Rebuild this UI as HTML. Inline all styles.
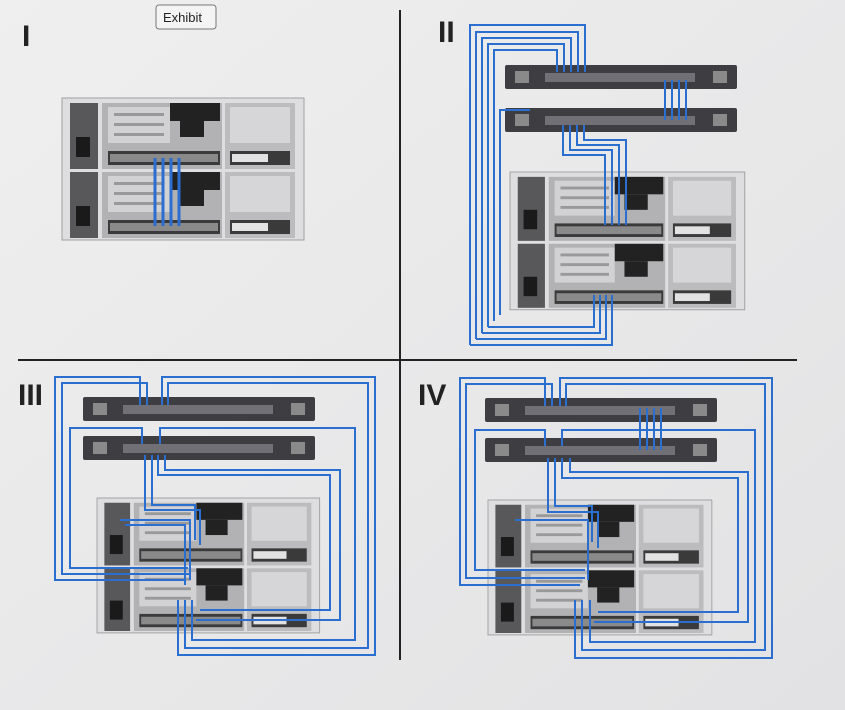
<!DOCTYPE html>
<html><head><style>
html,body{margin:0;padding:0;background:#ececec;}
svg{display:block;font-family:"Liberation Sans",sans-serif;}
</style></head><body>
<svg width="845" height="710" viewBox="0 0 845 710" xmlns="http://www.w3.org/2000/svg">
<defs>
<linearGradient id="bg" x1="0" y1="0" x2="1" y2="1">
<stop offset="0" stop-color="#efefef"/><stop offset="1" stop-color="#e2e2e4"/></linearGradient>
<g id="half">
<rect x="40" y="0" width="120" height="66" fill="#b2b2b4"/>
<rect x="46" y="4" width="62" height="36" fill="#d2d2d4"/>
<rect x="52" y="10" width="50" height="3" fill="#999"/><rect x="52" y="20" width="50" height="3" fill="#999"/><rect x="52" y="30" width="50" height="3" fill="#999"/>
<rect x="108" y="0" width="50" height="18" fill="#222"/>
<rect x="118" y="18" width="24" height="16" fill="#222"/>
<rect x="46" y="48" width="112" height="14" fill="#3a3a3a"/>
<rect x="48" y="51" width="108" height="8" fill="#8a8a8a"/>
<rect x="163" y="0" width="70" height="66" fill="#bcbcbe"/>
<rect x="168" y="4" width="60" height="36" fill="#d6d6d8"/>
<rect x="168" y="48" width="60" height="14" fill="#3a3a3a"/>
<rect x="170" y="51" width="36" height="8" fill="#e2e2e2"/>
<rect x="8" y="0" width="28" height="66" fill="#58585a"/>
<rect x="14" y="34" width="14" height="20" fill="#1a1a1a"/>
</g>
<g id="server">
<rect x="0" y="0" width="242" height="142" fill="#dedee0" stroke="#a0a0a0"/>
<use href="#half" x="0" y="5"/>
<use href="#half" x="0" y="74"/>
</g>
<g id="switch">
<rect x="0" y="0" width="232" height="24" rx="2" fill="#3e3e42"/>
<rect x="10" y="6" width="14" height="12" fill="#8a8a8a"/>
<rect x="208" y="6" width="14" height="12" fill="#8a8a8a"/>
<rect x="40" y="8" width="150" height="9" fill="#707076"/>
</g>
</defs>
<rect width="845" height="710" fill="url(#bg)"/>
<line x1="400" y1="10" x2="400" y2="660" stroke="#222" stroke-width="2"/>
<line x1="18" y1="360" x2="797" y2="360" stroke="#222" stroke-width="2"/>
<text x="22" y="46" font-size="30" font-weight="bold" fill="#222">I</text>
<text x="438" y="42" font-size="30" font-weight="bold" fill="#222">II</text>
<text x="18" y="405" font-size="30" font-weight="bold" fill="#222">III</text>
<text x="418" y="405" font-size="30" font-weight="bold" fill="#222">IV</text>
<rect x="156" y="5" width="60" height="24" rx="3" fill="#f4f4f4" stroke="#777"/>
<text x="163" y="22" font-size="13" fill="#222">Exhibit</text>

<use href="#server" x="62" y="98"/>
<g stroke="#2a6fd0" stroke-width="3" fill="none">
<line x1="155" y1="158" x2="155" y2="226"/><line x1="163" y1="158" x2="163" y2="226"/>
<line x1="171" y1="158" x2="171" y2="226"/><line x1="179" y1="158" x2="179" y2="226"/>
</g>

<use href="#switch" x="505" y="65"/>
<use href="#switch" x="505" y="108"/>
<use href="#server" x="510" y="172" transform="translate(510 172) scale(0.97 0.97) translate(-510 -172)"/>
<g stroke="#2a6fd0" stroke-width="2" fill="none">
<path d="M470 345 V25 H585 V72"/><path d="M476 339 V32 H578 V72"/><path d="M482 333 V38 H571 V72"/><path d="M488 327 V44 H564 V72"/><path d="M494 321 V50 H557 V72"/>
<path d="M470 345 H612 V295"/><path d="M476 339 H606 V295"/><path d="M482 333 H600 V295"/><path d="M488 327 H594 V295"/>
<path d="M500 315 V110 H530"/>
<path d="M563 125 V155 H605 V225"/><path d="M570 125 V150 H612 V225"/><path d="M577 125 V145 H619 V225"/><path d="M584 125 V140 H626 V225"/>
<path d="M665 80 V120"/><path d="M672 80 V120"/><path d="M679 80 V120"/><path d="M686 80 V120"/>
</g>

<use href="#switch" x="83" y="397"/>
<use href="#switch" x="83" y="436"/>
<use href="#server" x="97" y="498" transform="translate(97 498) scale(0.92 0.95) translate(-97 -498)"/>
<g stroke="#2a6fd0" stroke-width="2" fill="none">
<path d="M140 405 V377 H55 V580 H185"/><path d="M147 405 V383 H62 V574 H190"/>
<path d="M162 405 V377 H375 V655 H178 V600"/><path d="M168 405 V383 H368 V648 H185 V600"/>
<path d="M142 444 V428 H70 V568 H188"/><path d="M160 444 V428 H355 V640 H192 V600"/>
<path d="M145 455 V510 H200 V545"/><path d="M152 455 V505 H195 V540"/>
<path d="M158 455 V475 H330 V610 H200"/><path d="M165 455 V470 H340 V620 H196"/>
<path d="M120 520 H190 V580"/><path d="M125 525 H185 V585"/>
</g>

<use href="#switch" x="485" y="398"/>
<use href="#switch" x="485" y="438"/>
<use href="#server" x="488" y="500" transform="translate(488 500) scale(0.925 0.95) translate(-488 -500)"/>
<g stroke="#2a6fd0" stroke-width="2" fill="none">
<path d="M545 406 V378 H460 V585 H580"/><path d="M552 406 V384 H466 V578 H585"/>
<path d="M560 406 V378 H772 V658 H575 V600"/><path d="M566 406 V384 H765 V650 H582 V600"/>
<path d="M640 408 V450"/><path d="M647 408 V450"/><path d="M654 408 V450"/><path d="M661 408 V450"/>
<path d="M545 446 V430 H475 V570 H585"/><path d="M562 446 V430 H755 V642 H590 V600"/>
<path d="M548 458 V512 H598 V548"/><path d="M555 458 V506 H592 V542"/>
<path d="M562 458 V478 H738 V612 H598"/><path d="M570 458 V472 H748 V622 H594"/>
<path d="M515 520 H588 V580"/>
</g>
</svg>
</body></html>
